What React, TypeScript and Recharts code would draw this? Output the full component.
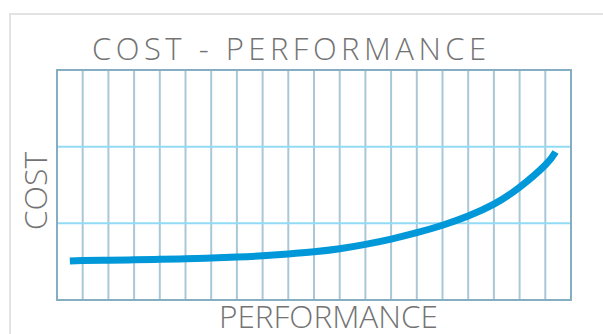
import React from "react";
import { LineChart, Line, XAxis, YAxis, CartesianGrid, ReferenceArea } from "recharts";

// performance (x) positions along the curve, in grid columns
const PERF = [0.5, 1, 2, 3, 4, 5, 6, 7, 8, 9, 10, 11, 12, 13, 14, 15, 16, 17, 18, 19, 19.4];
// cost (y), grid rows
const COST = [0.51, 0.514, 0.519, 0.524, 0.53, 0.538, 0.548, 0.56, 0.577, 0.6, 0.628, 0.668, 0.725, 0.795, 0.878, 0.975, 1.095, 1.25, 1.47, 1.76, 1.93];

const X_TICKS = [0, 1, 2, 3, 4, 5, 6, 7, 8, 9, 10, 11, 12, 13, 14, 15, 16, 17, 18, 19, 20];
const Y_TICKS = [0, 1, 2, 3];

const TITLE = "COST - PERFORMANCE";
const X_LABEL = "PERFORMANCE";
const Y_LABEL = "COST";

const data = PERF.map((p, i) => ({ perf: p, cost: COST[i] }));

const font = "'Open Sans', sans-serif";
const textColor = "#737373";

export default function App() {
  return (
    <div style={{ position: "absolute", left: 0, top: 0, width: 603, height: 334, overflow: "hidden", background: "#fff", fontFamily: font }}>
      <div style={{ position: "absolute", left: 9, top: 13, width: 620, height: 360, border: "2px solid #e2e2e2", boxSizing: "border-box" }} />
      <div style={{ position: "absolute", left: 92, top: 26, fontSize: 31, fontWeight: 300, letterSpacing: 4.5, color: textColor, lineHeight: "44px", whiteSpace: "nowrap" }}>
        {TITLE}
      </div>
      <div style={{ position: "absolute", left: 219, top: 294, fontSize: 31.5, fontWeight: 300, color: textColor, lineHeight: "44px", whiteSpace: "nowrap" }}>
        {X_LABEL}
      </div>
      <div style={{ position: "absolute", left: 35, top: 191, width: 0, height: 0 }}>
        <div style={{ position: "absolute", left: 0, top: 0, transform: "translate(-50%, -50%) rotate(-90deg)", fontSize: 32, fontWeight: 300, color: textColor, lineHeight: "44px", whiteSpace: "nowrap" }}>
          {Y_LABEL}
        </div>
      </div>
      <div style={{ position: "absolute", left: 0, top: 0 }}>
        <LineChart width={603} height={334} data={data} margin={{ top: 70, right: 32, bottom: 34, left: 57 }}>
          <XAxis type="number" dataKey="perf" domain={[0, 20]} ticks={X_TICKS} hide />
          <YAxis type="number" domain={[0, 3]} ticks={Y_TICKS} hide />
          <CartesianGrid horizontal={false} stroke="#a9c8d7" strokeWidth={2} />
          <CartesianGrid vertical={false} stroke="#93dbf5" strokeWidth={2} />
          <ReferenceArea x1={0} x2={20} y1={0} y2={3} fill="none" fillOpacity={0} stroke="#86aec3" strokeWidth={2} ifOverflow="extendDomain" />
          <Line type="natural" dataKey="cost" stroke="#0098d8" strokeWidth={7} dot={false} activeDot={false} isAnimationActive={false} />
        </LineChart>
      </div>
    </div>
  );
}
